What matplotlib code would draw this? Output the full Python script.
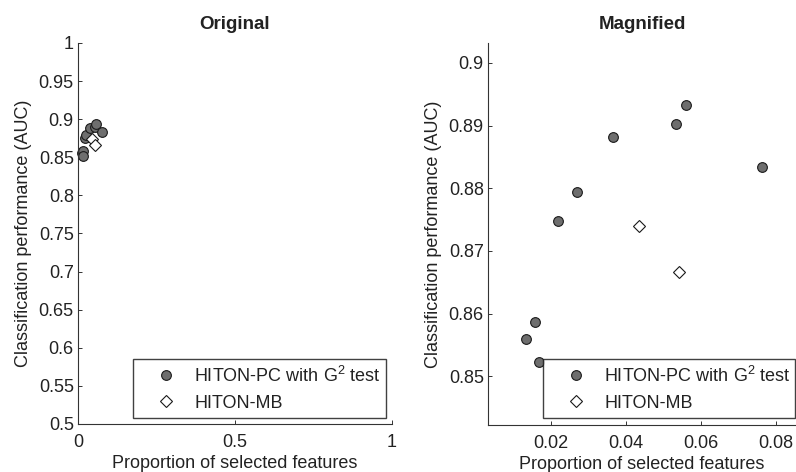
import numpy as np
import matplotlib.pyplot as plt

'''Values read from the magnified panel'''
pc_x = [0.0220, 0.0270, 0.0366, 0.0533, 0.0559, 0.0763, 0.0133, 0.0158, 0.0167]
pc_auc = [0.8747, 0.8794, 0.8882, 0.8903, 0.8933, 0.8834, 0.8560, 0.8586, 0.8522]
mb_x = [0.0434, 0.0540]
mb_auc = [0.8740, 0.8666]

pc_label = 'HITON-PC with G$^2$ test'
mb_label = 'HITON-MB'

plt.rcParams['font.family'] = ['Liberation Sans', 'DejaVu Sans']
plt.rcParams['font.size'] = 13
plt.rcParams['mathtext.fontset'] = 'custom'
plt.rcParams['mathtext.rm'] = 'Liberation Sans'
text_col = '#222222'


def style_axes(ax):
    for side in ['top', 'right']:
        ax.spines[side].set_visible(False)
    for side in ['left', 'bottom']:
        ax.spines[side].set_color('#333333')
        ax.spines[side].set_linewidth(0.8)
    ax.tick_params(direction='in', length=3, width=0.7, colors='#333333',
                   labelcolor=text_col, labelsize=13)
    ax.tick_params(axis='x', pad=7)
    ax.tick_params(axis='y', pad=3)


def draw_points(ax, ms):
    ax.plot(pc_x, pc_auc, 'o', ms=ms, mfc='#6e6e6e', mec='#1a1a1a', mew=0.8,
            ls='none', label=pc_label, clip_on=False)
    ax.plot(mb_x, mb_auc, 'D', ms=ms * 0.85, mfc='white', mec='#1a1a1a', mew=0.8,
            ls='none', label=mb_label, clip_on=False)


def add_legend(ax, box):
    leg = ax.legend(loc='lower left', bbox_to_anchor=box, mode='expand',
                    borderaxespad=0, frameon=True, fancybox=False,
                    borderpad=0.35, handletextpad=0.05, labelspacing=0.5,
                    handlelength=3.0, fontsize=13)
    leg.get_frame().set_edgecolor('#111111')
    leg.get_frame().set_linewidth(1.0)
    for t in leg.get_texts():
        t.set_color(text_col)
    return leg


fig = plt.figure(figsize=(7.96, 4.72), dpi=100)

ax1 = fig.add_axes([0.098, 0.1017, 0.3945, 0.8073])
draw_points(ax1, 7)
ax1.set_xlim(0, 1)
ax1.set_ylim(0.5, 1)
ax1.set_xticks([0, 0.5, 1])
ax1.set_xticklabels(['0', '0.5', '1'])
ax1.set_yticks(np.arange(0.5, 1.001, 0.05))
ax1.set_yticklabels(['0.5', '0.55', '0.6', '0.65', '0.7', '0.75', '0.8',
                     '0.85', '0.9', '0.95', '1'])
style_axes(ax1)
ax1.set_title('Original', fontweight='bold', color=text_col, fontsize=13.5, pad=10)
ax1.set_xlabel('Proportion of selected features', color=text_col, labelpad=3)
ax1.set_ylabel('Classification performance (AUC)', color=text_col, labelpad=5)
add_legend(ax1, (0.175, 0.016, 0.806, 0.157))

ax2 = fig.add_axes([0.613, 0.0996, 0.387, 0.8094])
draw_points(ax2, 7)
ax2.set_xlim(0.0032, 0.0853)
ax2.set_ylim(0.8422, 0.9032)
ax2.set_xticks([0.02, 0.04, 0.06, 0.08])
ax2.set_xticklabels(['0.02', '0.04', '0.06', '0.08'])
ax2.set_yticks([0.85, 0.86, 0.87, 0.88, 0.89, 0.9])
ax2.set_yticklabels(['0.85', '0.86', '0.87', '0.88', '0.89', '0.9'])
style_axes(ax2)
ax2.set_title('Magnified', fontweight='bold', color=text_col, fontsize=13.5, pad=10)
ax2.set_xlabel('Proportion of selected features', color=text_col, labelpad=3)
ax2.set_ylabel('Classification performance (AUC)', color=text_col, labelpad=5)
add_legend(ax2, (0.179, 0.018, 0.818, 0.157))

fig.savefig('out.png', dpi=100)
